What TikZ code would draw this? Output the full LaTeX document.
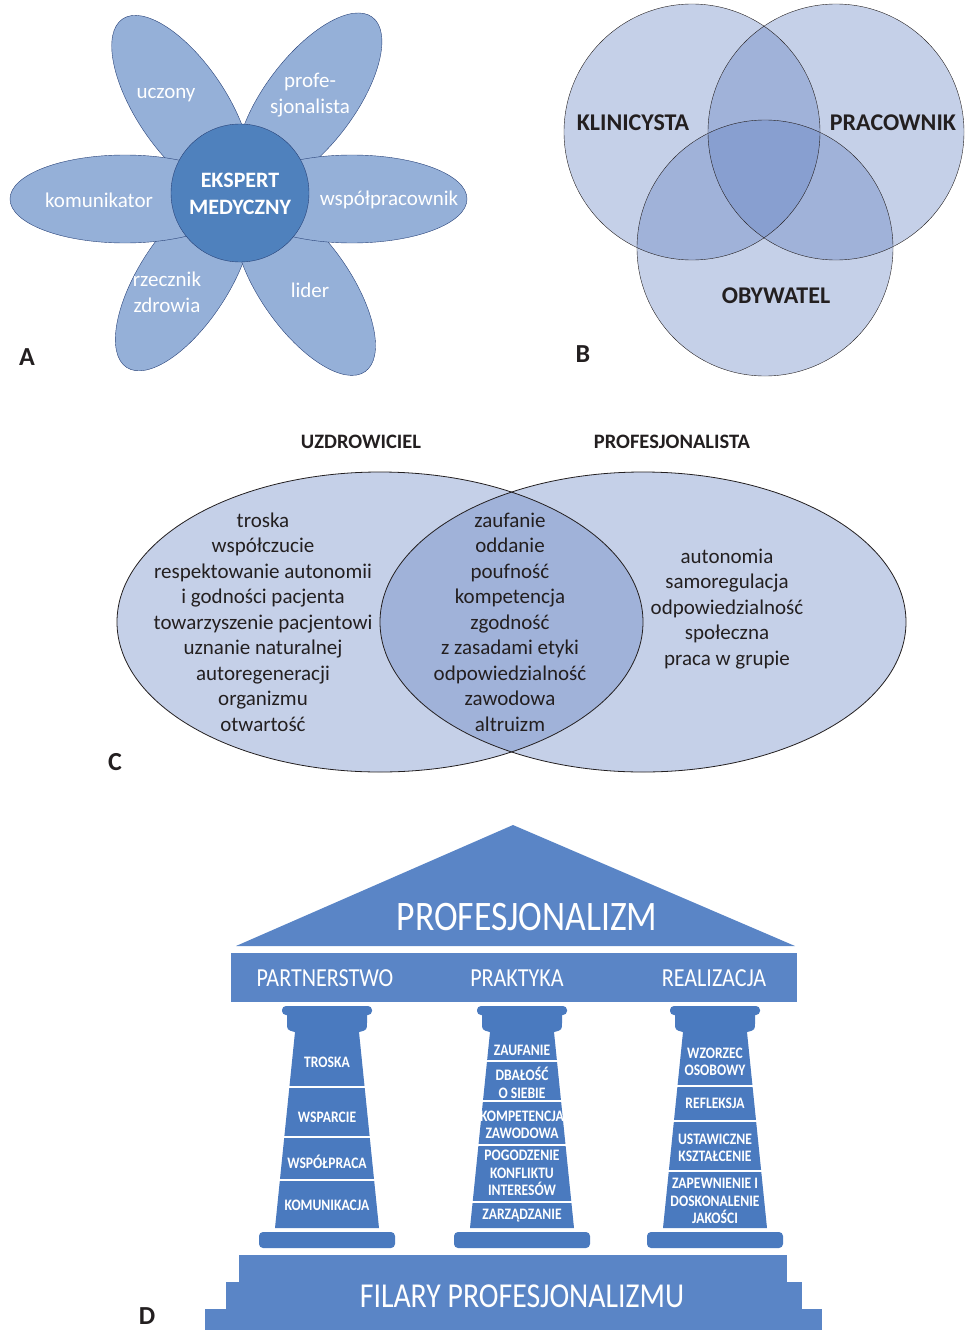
\documentclass[tikz,border=0pt]{standalone}
\usepackage{fontspec}
\setmainfont{Carlito}
\newfontfamily\templefont[FakeStretch=0.85]{Carlito}
\definecolor{petal}{RGB}{149,176,216}
\definecolor{core}{RGB}{79,129,189}
\definecolor{rim}{RGB}{40,66,120}
\definecolor{venn}{RGB}{95,125,191}
\definecolor{ink}{RGB}{35,31,32}
\definecolor{roof}{RGB}{90,133,198}
\definecolor{pillar}{RGB}{74,122,191}

\begin{document}
\begin{tikzpicture}[x=1pt,y=-1pt,
  petaltext/.style={text=white,align=center,font=\fontsize{21}{26}\selectfont},
  venntext/.style={text=ink,align=center,font=\fontsize{21}{25.5}\selectfont},
  setname/.style={text=ink,font=\bfseries\fontsize{24}{26}\selectfont},
  heading/.style={text=ink,font=\bfseries\fontsize{20.5}{22}\selectfont},
  panel/.style={text=ink,inner sep=1pt,font=\bfseries\fontsize{26}{28}\selectfont},
  stone/.style={text=white,align=center,font=\templefont\bfseries\fontsize{16}{17.5}\selectfont},
  beam/.style={text=white,font=\templefont\fontsize{26}{28}\selectfont}]
\useasboundingbox (0,0) rectangle (964,1330);

\draw[rim,fill=petal,rotate around={124:(181.3,106)}] (181.3,106) ellipse (105 and 45);
\draw[rim,fill=petal,rotate around={53:(309.2,101.1)}] (309.2,101.1) ellipse (105 and 45);
\draw[rim,fill=petal,rotate around={57:(183.9,279.4)}] (183.9,279.4) ellipse (105 and 45);
\draw[rim,fill=petal,rotate around={-55:(304.9,285.6)}] (304.9,285.6) ellipse (105 and 45);
\draw[rim,fill=petal] (125,199) ellipse (115 and 44);
\draw[rim,fill=petal] (352,199) ellipse (115 and 44);
\draw[rim,fill=core] (240,193) circle (69);
\node[petaltext] (uczony) at (166,95) {uczony};
\node[petaltext] (profesjonalista) at (310,95) {profe-\\sjonalista};
\node[petaltext] (komunikator) at (99,200) {komunikator};
\node[petaltext] (wspolpracownik) at (389,200) {współpracownik};
\node[petaltext] (rzecznik) at (167,292) {rzecznik\\zdrowia};
\node[petaltext] (lider) at (310,290) {lider};
\node[text=white,align=center,font=\bfseries\fontsize{22}{27}\selectfont] (ekspert) at (240,194) {EKSPERT\\MEDYCZNY};
\node[panel] (a) at (27,357) {A};

\fill[venn,fill opacity=.36] (692,132) circle (128);
\fill[venn,fill opacity=.36] (836,132) circle (128);
\fill[venn,fill opacity=.36] (765,248) circle (128);
\draw[ink] (692,132) circle (128);
\draw[ink] (836,132) circle (128);
\draw[ink] (765,248) circle (128);
\node[setname] (klinicysta) at (633,123) {KLINICYSTA};
\node[setname] (pracownik) at (893,123) {PRACOWNIK};
\node[setname] (obywatel) at (776,296) {OBYWATEL};
\node[panel] (b) at (583,354) {B};

\node[heading] (uzdrowiciel) at (361,442) {UZDROWICIEL};
\node[heading] (profesjonalistaC) at (672,442) {PROFESJONALISTA};
\fill[venn,fill opacity=.36] (380,622) ellipse (263 and 150);
\fill[venn,fill opacity=.36] (643,622) ellipse (263 and 150);
\draw[ink,thick] (380,622) ellipse (263 and 150);
\draw[ink,thick] (643,622) ellipse (263 and 150);
\node[venntext] (healer) at (263,622) {troska\\współczucie\\respektowanie autonomii\\i godności pacjenta\\towarzyszenie pacjentowi\\uznanie naturalnej\\autoregeneracji\\organizmu\\otwartość};
\node[venntext] (common) at (510,622) {zaufanie\\oddanie\\poufność\\kompetencja\\zgodność\\z zasadami etyki\\odpowiedzialność\\zawodowa\\altruizm};
\node[venntext] (professional) at (727,609) {autonomia\\samoregulacja\\odpowiedzialność\\społeczna\\praca w grupie};
\node[panel] (c) at (115,762) {C};

\fill[roof] (236,946) -- (513,825) -- (795,946) -- cycle;
\fill[roof] (231,953) rectangle (797,1002);
\fill[roof] (239,1255) rectangle (787,1330);
\fill[roof] (226,1282) rectangle (802,1330);
\fill[roof] (205,1309) rectangle (822,1330);
\foreach \cx in {327,522,715}{
  \fill[pillar,rounded corners=4] (\cx-45,1006) rectangle (\cx+45,1015);
  \fill[pillar] (\cx-40,1015) -- (\cx-40,1022) .. controls (\cx-40,1030) .. (\cx-32,1032)
    -- (\cx+32,1032) .. controls (\cx+40,1030) .. (\cx+40,1022) -- (\cx+40,1015) -- cycle;
  \fill[pillar] (\cx-32,1032) -- (\cx+32,1032) -- (\cx+52,1228) -- (\cx-52,1228) -- cycle;
  \fill[pillar,rounded corners=4] (\cx-68,1232) rectangle (\cx+68,1248);
}
\foreach \y in {1087,1137,1180} \draw[white,line width=2.5] (267,\y) -- (387,\y);
\foreach \y in {1061,1101,1145,1202} \draw[white,line width=2.5] (462,\y) -- (582,\y);
\foreach \y in {1086,1121,1171} \draw[white,line width=2.5] (655,\y) -- (775,\y);
\node[text=white,font=\templefont\fontsize{42}{44}\selectfont] (profesjonalizm) at (527,917) {PROFESJONALIZM};
\node[beam] (partnerstwo) at (325,978) {PARTNERSTWO};
\node[beam] (praktyka) at (517,978) {PRAKTYKA};
\node[beam] (realizacja) at (714,978) {REALIZACJA};
\node[stone] (troska) at (327,1062) {TROSKA};
\node[stone] (wsparcie) at (327,1117) {WSPARCIE};
\node[stone] (wspolpraca) at (327,1162) {WSPÓŁPRACA};
\node[stone] (komunikacja) at (327,1205) {KOMUNIKACJA};
\node[stone] (zaufanie) at (522,1050) {ZAUFANIE};
\node[stone] (dbalosc) at (522,1083) {DBAŁOŚĆ\\O SIEBIE};
\node[stone] (kompetencja) at (522,1125) {KOMPETENCJA\\ZAWODOWA};
\node[stone] (pogodzenie) at (522,1173) {POGODZENIE\\KONFLIKTU\\INTERESÓW};
\node[stone] (zarzadzanie) at (522,1216) {ZARZĄDZANIE};
\node[stone] (wzorzec) at (715,1062) {WZORZEC\\OSOBOWY};
\node[stone] (refleksja) at (715,1103) {REFLEKSJA};
\node[stone] (ustawiczne) at (715,1148) {USTAWICZNE\\KSZTAŁCENIE};
\node[stone] (jakosc) at (715,1201) {ZAPEWNIENIE I\\DOSKONALENIE\\JAKOŚCI};
\node[text=white,font=\templefont\fontsize{35}{38}\selectfont] (filary) at (522,1296) {FILARY PROFESJONALIZMU};
\node[panel] (d) at (147,1316) {D};
\end{tikzpicture}
\end{document}
